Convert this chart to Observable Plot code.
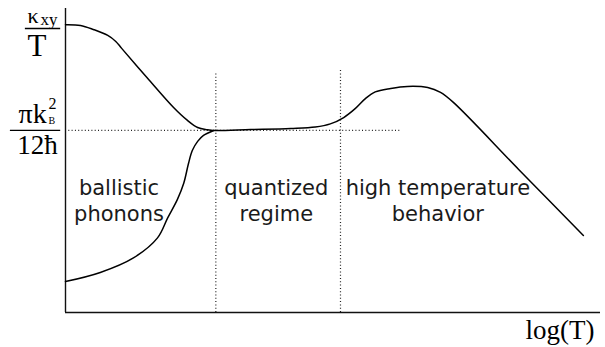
<!DOCTYPE html>
<html>
<head>
<meta charset="utf-8">
<script src="https://cdn.jsdelivr.net/npm/d3@7"></script>
<script src="https://cdn.jsdelivr.net/npm/@observablehq/plot@0.6"></script>
<style>
  html, body { margin: 0; padding: 0; background: #fff; }
  #chart { width: 605px; height: 347px; }
</style>
</head>
<body>
<div id="chart"></div>
<script>
// x: log(T) in arbitrary units; y: κxy/T in units of πk_B²/12ħ
const upperX = [0, 0.28, 0.52, 0.79, 0.94, 1.05, 1.53, 2.02, 2.28, 2.47, 2.65, 2.77];
const upperY = [1.581, 1.577, 1.555, 1.522, 1.489, 1.451, 1.288, 1.126, 1.055, 1.016, 1.004, 1.00];

const lowerX = [0, 0.65, 1.27, 1.72, 1.91, 2.09, 2.21, 2.30, 2.37, 2.47, 2.58, 2.77];
const lowerY = [0.17, 0.22, 0.30, 0.41, 0.52, 0.62, 0.71, 0.82, 0.89, 0.94, 0.973, 1.00];

const mainX = [2.77, 3.46, 4.21, 4.67, 4.95, 5.20, 5.42, 5.61, 5.79, 6.08, 6.39, 6.77, 7.01, 7.25, 8.47, 9.68];
const mainY = [1.00, 1.005, 1.011, 1.019, 1.036, 1.071, 1.121, 1.176, 1.212, 1.231, 1.242, 1.236, 1.209, 1.154, 0.786, 0.423];

const plateau = 1;            // πk_B²/12ħ
const plateauEnd = 6.26;      // extent of the dotted guide
const boundaryX = [2.81, 5.14];
const boundaryTop = [1.313, 1.33];

const regionLines = ["ballistic", "phonons", "quantized", "regime", "high temperature", "behavior"];
const regionX = [1.0, 1.0, 3.94, 3.94, 6.96, 6.96];
const regionY = [0.643, 0.50, 0.643, 0.50, 0.643, 0.50];

const toPts = (xs, ys) => xs.map((x, i) => ({x, y: ys[i]}));
const branchDown = toPts(upperX, upperY).concat(toPts(mainX, mainY).slice(1));
const branchUp = toPts(lowerX, lowerY);
const boundaries = boundaryX.map((x, i) => ({x, top: boundaryTop[i]}));
const regions = regionLines.map((t, i) => ({t, x: regionX[i], y: regionY[i]}));

const serif = "'Liberation Serif', 'Times New Roman', serif";
const dots = "1,2.3";

const chart = Plot.plot({
  width: 605,
  height: 347,
  marginLeft: 65,
  marginRight: 5,
  marginTop: 8,
  marginBottom: 35,
  x: {domain: [0, 10], axis: null},
  y: {domain: [0, 1.67], axis: null},
  style: {background: "#fff", fontFamily: "DejaVu Sans", overflow: "visible"},
  marks: [
    // dotted guides
    Plot.ruleY([plateau], {x1: 0, x2: plateauEnd, stroke: "#222", strokeWidth: 1.2, strokeDasharray: dots}),
    Plot.ruleX(boundaries, {x: "x", y1: 0, y2: "top", stroke: "#222", strokeWidth: 1.2, strokeDasharray: dots}),
    // axes lines
    Plot.ruleX([0], {y1: 0, y2: 1.67, stroke: "#111", strokeWidth: 1.4}),
    Plot.ruleY([0], {x1: 0, x2: 10, stroke: "#111", strokeWidth: 1.4}),
    // curves
    Plot.line(branchDown, {x: "x", y: "y", curve: "catmull-rom", stroke: "#000", strokeWidth: 1.5}),
    Plot.line(branchUp, {x: "x", y: "y", curve: "catmull-rom", stroke: "#000", strokeWidth: 1.5}),
    // region labels
    Plot.text(regions, {x: "x", y: "y", text: "t", fontSize: 21, fill: "#1a1a1a", textAnchor: "middle", lineAnchor: "bottom", fontFamily: "DejaVu Sans"}),
    // y label: κxy / T
    Plot.text(["κ"], {frameAnchor: "top-left", dx: 27 - 65, dy: 22 - 8, fontSize: 22, fontFamily: serif, textAnchor: "start", lineAnchor: "bottom", fill: "#000"}),
    Plot.text(["xy"], {frameAnchor: "top-left", dx: 40 - 65, dy: 24 - 8, fontSize: 17, fontFamily: serif, textAnchor: "start", lineAnchor: "bottom", fill: "#000"}),
    Plot.ruleY([1.56], {x1: -0.75, x2: -0.09, stroke: "#000", strokeWidth: 1.3}),
    Plot.text(["T"], {frameAnchor: "top-left", dx: 36.5 - 65, dy: 55 - 8, fontSize: 31, fontFamily: serif, textAnchor: "middle", lineAnchor: "bottom", fill: "#000"}),
    // plateau label: πk_B² / 12ħ
    Plot.text(["πk"], {frameAnchor: "top-left", dx: 18 - 65, dy: 122 - 8, fontSize: 28, fontFamily: serif, textAnchor: "start", lineAnchor: "bottom", fill: "#000"}),
    Plot.text(["2"], {frameAnchor: "top-left", dx: 48 - 65, dy: 108 - 8, fontSize: 16, fontFamily: serif, textAnchor: "start", lineAnchor: "bottom", fill: "#000"}),
    Plot.text(["B"], {frameAnchor: "top-left", dx: 48 - 65, dy: 123.5 - 8, fontSize: 10, fontFamily: serif, textAnchor: "start", lineAnchor: "bottom", fill: "#000"}),
    Plot.ruleY([plateau], {x1: -1.03, x2: -0.09, stroke: "#000", strokeWidth: 1.3}),
    Plot.text(["12ħ"], {frameAnchor: "top-left", dx: 37 - 65, dy: 153 - 8, fontSize: 27, fontFamily: serif, textAnchor: "middle", lineAnchor: "bottom", fill: "#000"}),
    // x label
    Plot.text(["log(T)"], {frameAnchor: "bottom-right", dx: 594 - 600, dy: 338 - 312, fontSize: 27, fontFamily: serif, textAnchor: "end", lineAnchor: "bottom", fill: "#000"})
  ]
});
document.getElementById("chart").appendChild(chart);
</script>
</body>
</html>
